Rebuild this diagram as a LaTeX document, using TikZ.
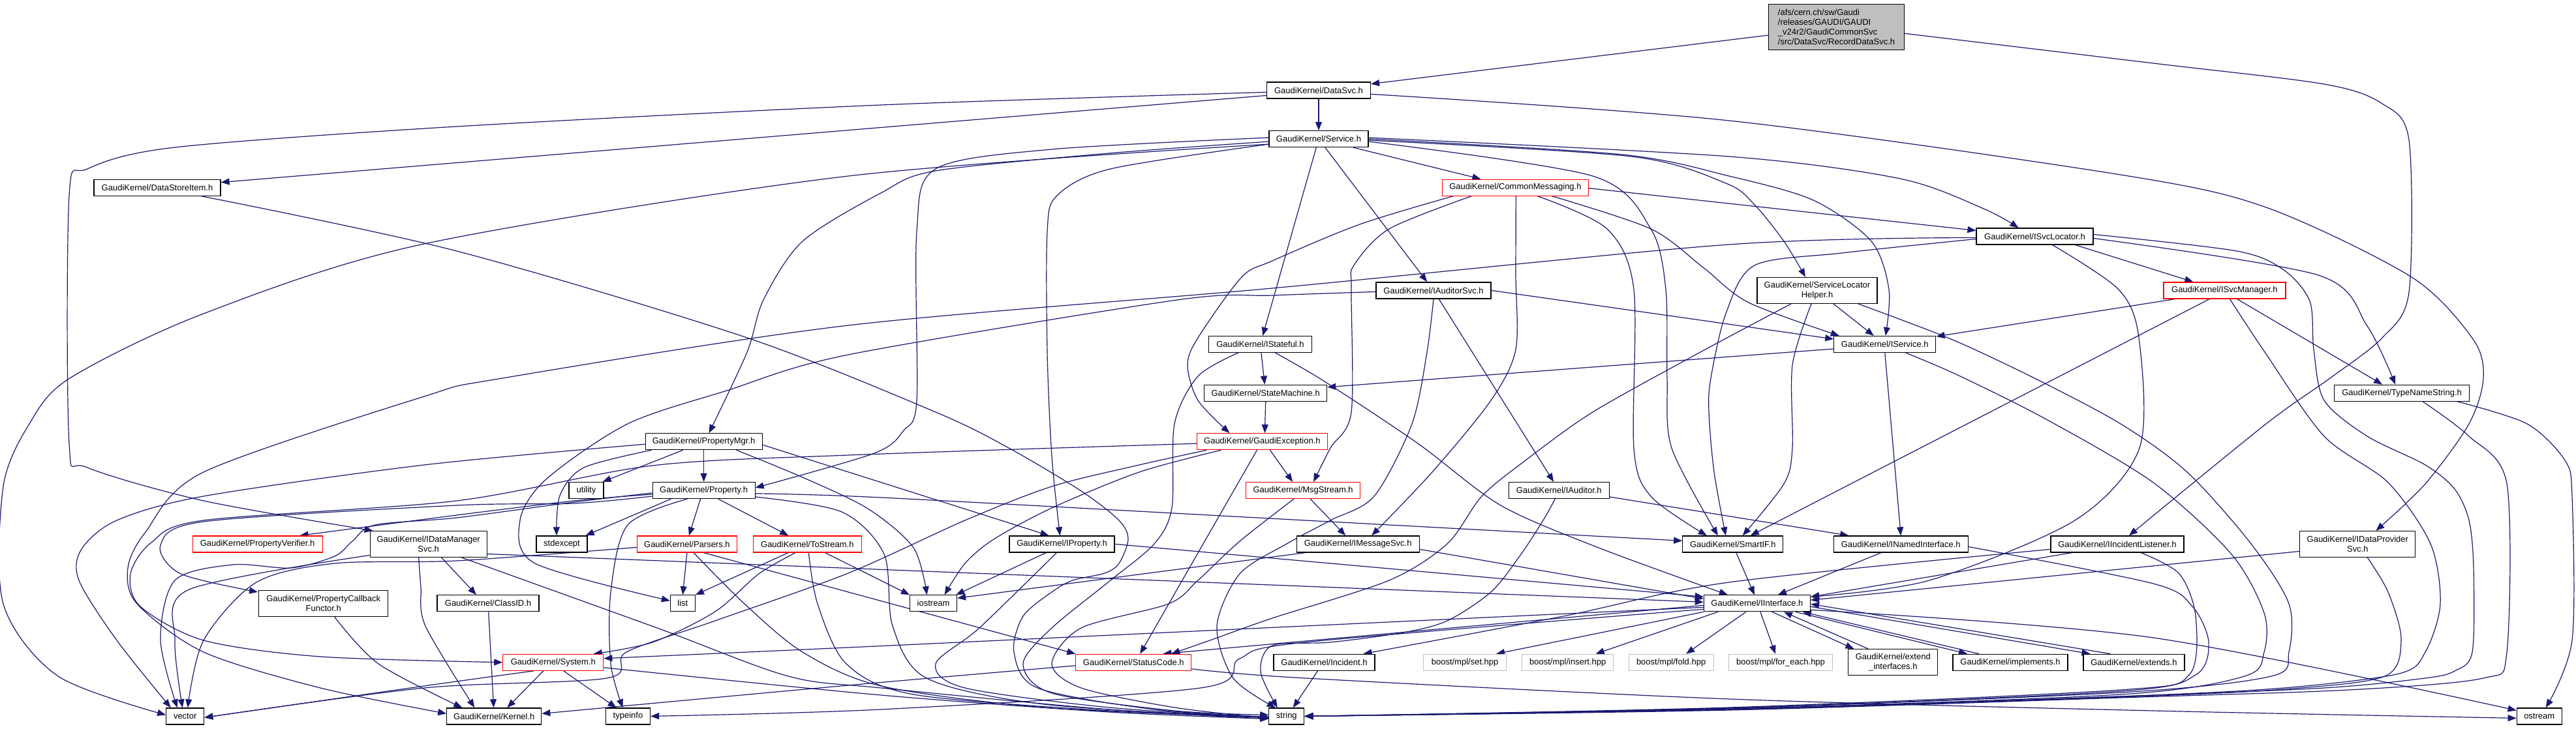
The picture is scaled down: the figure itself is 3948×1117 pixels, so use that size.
\documentclass[tikz,border=0pt]{standalone}
\usepackage{fontspec}
\setmainfont{Liberation Sans}
\usetikzlibrary{arrows.meta}
\definecolor{edgec}{HTML}{191970}
\definecolor{grayb}{HTML}{BFBFBF}
\pgfdeclarelayer{bg}
\pgfsetlayers{bg,main}
\begin{document}
\begin{tikzpicture}[x=1pt,y=-1pt,
  nd/.style={draw=black, line width=1.2pt, fill=white, inner sep=0pt, minimum height=25pt, align=center, font=\fontsize{13}{15}\selectfont},
  rnd/.style={nd, draw=red},
  bnd/.style={nd, draw=grayb},
  ed/.style={draw=edgec, line width=1.2pt, -{Triangle[length=13pt,width=10pt]}},
  sm/.style={smooth, tension=0.5}
]
\useasboundingbox (0,0) rectangle (3948,1117);
% nodes
\node[nd, fill=grayb, minimum width=207.6pt, minimum height=70pt, align=left] (root) at (2814.5,41.3) {/afs/cern.ch/sw/Gaudi\\/releases/GAUDI/GAUDI\\\_v24r2/GaudiCommonSvc\\/src/DataSvc/RecordDataSvc.h};
\node[nd, minimum width=159pt] (datasvc) at (2021,138.4) {GaudiKernel/DataSvc.h};
\node[nd, minimum width=152pt] (service) at (2021,213.1) {GaudiKernel/Service.h};
\node[nd, minimum width=194pt] (dsi) at (241,287.6) {GaudiKernel/DataStoreItem.h};
\node[rnd, minimum width=224pt] (cm) at (2322.4,287.6) {GaudiKernel/CommonMessaging.h};
\node[nd, minimum width=179pt] (isl) at (3118.5,362.5) {GaudiKernel/ISvcLocator.h};
\node[nd, minimum width=176pt] (ias) at (2197,445.4) {GaudiKernel/IAuditorSvc.h};
\node[nd, minimum width=184pt, minimum height=40pt] (slh) at (2785,445.4) {GaudiKernel/ServiceLocator\\Helper.h};
\node[rnd, minimum width=187pt] (ism) at (3409.4,445.4) {GaudiKernel/ISvcManager.h};
\node[nd, minimum width=158pt] (ist) at (1931.5,528) {GaudiKernel/IStateful.h};
\node[nd, minimum width=156pt] (isrv) at (2888.8,528) {GaudiKernel/IService.h};
\node[nd, minimum width=188pt] (smach) at (1939.7,602.7) {GaudiKernel/StateMachine.h};
\node[nd, minimum width=207pt] (tns) at (3681.1,602.7) {GaudiKernel/TypeNameString.h};
\node[rnd, minimum width=200pt] (gex) at (1934.4,677.2) {GaudiKernel/GaudiException.h};
\node[nd, minimum width=179pt] (pmgr) at (1078.6,677.2) {GaudiKernel/PropertyMgr.h};
\node[nd, minimum width=53pt] (util) at (898.5,752) {utility};
\node[nd, minimum width=157pt] (prop) at (1078.6,752) {GaudiKernel/Property.h};
\node[rnd, minimum width=175pt] (msg) at (1997.1,752) {GaudiKernel/MsgStream.h};
\node[nd, minimum width=154pt] (iaud) at (2389.3,752) {GaudiKernel/IAuditor.h};
\node[rnd, minimum width=199pt] (pver) at (394.6,834.4) {GaudiKernel/PropertyVerifier.h};
\node[nd, minimum width=179pt, minimum height=40pt] (idm) at (656.7,834.5) {GaudiKernel/IDataManager\\Svc.h};
\node[nd, minimum width=78pt] (stdx) at (861,834.4) {stdexcept};
\node[rnd, minimum width=153pt] (pars) at (1052.9,834.4) {GaudiKernel/Parsers.h};
\node[rnd, minimum width=166pt] (tostr) at (1237.3,834.4) {GaudiKernel/ToStream.h};
\node[nd, minimum width=161pt] (iprop) at (1627.5,834.4) {GaudiKernel/IProperty.h};
\node[nd, minimum width=188pt] (imsg) at (2081.2,834.4) {GaudiKernel/IMessageSvc.h};
\node[nd, minimum width=154pt] (smart) at (2655.8,834.4) {GaudiKernel/SmartIF.h};
\node[nd, minimum width=206pt] (inamed) at (2913.2,834.4) {GaudiKernel/INamedInterface.h};
\node[nd, minimum width=204pt] (iil) at (3245,834.4) {GaudiKernel/IIncidentListener.h};
\node[nd, minimum width=177pt, minimum height=40pt] (idp) at (3613.3,834.5) {GaudiKernel/IDataProvider\\Svc.h};
\node[nd, minimum width=198pt, minimum height=40pt] (pcf) at (495.7,925.5) {GaudiKernel/PropertyCallback\\Functor.h};
\node[nd, minimum width=156pt] (clid) at (748,925.3) {GaudiKernel/ClassID.h};
\node[nd, minimum width=38pt] (list) at (1046.4,925.3) {list};
\node[nd, minimum width=72pt] (iostr) at (1430.6,925.3) {iostream};
\node[nd, minimum width=163pt] (iintf) at (2692.9,925.3) {GaudiKernel/IInterface.h};
\node[rnd, minimum width=154pt] (sys) at (847.8,1015.8) {GaudiKernel/System.h};
\node[rnd, minimum width=177pt] (stc) at (1737.3,1015.8) {GaudiKernel/StatusCode.h};
\node[nd, minimum width=155pt] (inc) at (2029.5,1015.8) {GaudiKernel/Incident.h};
\node[bnd, minimum width=127pt] (bset) at (2245.1,1015.8) {boost/mpl/set.hpp};
\node[bnd, minimum width=140pt] (bins) at (2402.7,1015.8) {boost/mpl/insert.hpp};
\node[bnd, minimum width=130pt] (bfold) at (2561.1,1015.8) {boost/mpl/fold.hpp};
\node[bnd, minimum width=159pt] (bfe) at (2729,1015.8) {boost/mpl/for\_each.hpp};
\node[nd, minimum width=137pt, minimum height=40pt] (extif) at (2901.3,1015.7) {GaudiKernel/extend\\\_interfaces.h};
\node[nd, minimum width=176pt] (impl) at (3081,1015.8) {GaudiKernel/implements.h};
\node[nd, minimum width=155pt] (exts) at (3270.4,1015.8) {GaudiKernel/extends.h};
\node[nd, minimum width=58pt] (vec) at (283.7,1098.4) {vector};
\node[nd, minimum width=145pt] (kern) at (757.3,1098.4) {GaudiKernel/Kernel.h};
\node[nd, minimum width=68pt] (tinfo) at (962.5,1098.4) {typeinfo};
\node[nd, minimum width=54pt] (str) at (1971.8,1098.4) {string};
\node[nd, minimum width=69pt] (ostr) at (3891.7,1098.4) {ostream};

\begin{pgfonlayer}{bg}
\fill[white] (0,0) rectangle (3948,1117);
% root
\draw[ed] (root) -- (datasvc);
\draw[ed] plot[sm] coordinates {([yshift=-10pt]root.east) (3300,97) (3562,129) (3651,159) (3692,215) (3692,448) (3651,518) (3571,580) (3473,650) ([xshift=18pt]iil.north)};
% DataSvc
\draw[ed] (datasvc) -- (service);
\draw[ed] ([yshift=-8pt]datasvc.west) -- (dsi);
\draw[ed] plot[sm] coordinates {([yshift=-3pt]datasvc.west) (1350,161) (700,194) (268,226) (134,259) (106,300) (106,680) (134,717) (312,768) ([xshift=5pt]idm.north west)};
\draw[ed] plot[sm] coordinates {([yshift=-6pt]datasvc.east) (2650,185) (3250,268) (3473,318) (3696,425) (3790,520) (3806,580) (3784,650) (3717,742) ([xshift=28pt]idp.north)};
% Service
\draw[ed] (service) -- (cm);
\draw[ed] (service) -- (ias);
\draw[ed] (service) -- (ist);
\draw[ed] plot[sm] coordinates {([yshift=-4pt]service.west) (1700,235) (1434,262) (1350,296) (1230,370) (1170,460) (1145,540) ([xshift=8pt]pmgr.north)};
\draw[ed] plot[sm] coordinates {([yshift=-8pt]service.west) (1702,259) (1620,300) (1605,355) (1605,540) (1612,700) ([xshift=-3pt]iprop.north)};
\draw[ed] plot[sm] coordinates {([yshift=2pt]service.west) (1612,229) (1434,259) (1405,355) (1405,614) (1385,660) (1340,695) ([yshift=4pt]prop.east)};
\draw[ed] plot[sm] coordinates {([yshift=-8pt]service.west) (1300,270) (650,374) (312,481) (107,580) (45,650) (5,746) (5,926) (89,1037) ([yshift=2pt]vec.west)};
\draw[ed] plot[sm] coordinates {([yshift=2pt]service.east) (2650,240) (2912,274) (3040,320) ([xshift=-25pt]isl.north)};
\draw[ed] plot[sm] coordinates {(service.east) (2486,237) (2650,270) (2779,307) (2868,370) (2895,444) ([xshift=1pt]isrv.north)};
\draw[ed] plot[sm] coordinates {([yshift=-2pt]service.east) (2500,240) (2645,281) (2689,314) (2734,370) ([xshift=-18pt]slh.north)};
\draw[ed] plot[sm] coordinates {([yshift=-4pt]service.east) (2441,270) (2530,351) (2553,444) (2555,580) (2562,687) ([xshift=-23pt]smart.north)};
% DataStoreItem
\draw[ed] plot[sm] coordinates {([xshift=67pt]dsi.south) (700,385) (1145,518) (1434,632) (1546,687) (1657,753) (1715,798) (1729,827) (1715,864) (1693,879) (1644,890) (1612,908) (1568,945) (1554,1000) (1590,1055) (1769,1088) ([yshift=-1pt]str.west)};
% CommonMessaging
\draw[ed] plot[sm] coordinates {([xshift=-95pt]cm.south) (2084,344) (1950,400) (1903,425) (1836,518) (1820,560) (1836,614) ([xshift=-50pt]gex.north)};
\draw[ed] plot[sm] coordinates {([xshift=-67pt]cm.south) (2129,351) (2075,407) (2071,444) (2071,632) (2039,687) ([xshift=16pt]msg.north)};
\draw[ed] plot[sm] coordinates {([xshift=1pt]cm.south) (2323,420) (2323,536) (2285,614) (2195,724) ([xshift=21pt]imsg.north)};
\draw[ed] plot[sm] coordinates {([xshift=34pt]cm.south) (2463,351) (2504,444) (2504,687) (2530,761) ([xshift=-40pt]smart.north)};
\draw[ed] plot[sm] coordinates {([xshift=56pt]cm.south) (2530,351) (2610,410) (2680,464) ([xshift=-70pt]isrv.north)};
\draw[ed] ([yshift=-1pt]cm.east) -- ([yshift=9pt]isl.west);
% ISvcLocator
\draw[ed] plot[sm] coordinates {([yshift=-2pt]isl.west) (2650,375) (1950,442) (1300,499) (770,580) (650,608) (312,724) (223,816) (196,871) (210,926) (312,1000) (491,1055) ([yshift=4pt]kern.west)};
\draw[ed] plot[sm] coordinates {([yshift=-4pt]isl.west) (2823,388) (2689,407) (2645,481) (2622,580) (2619,632) (2627,724) ([xshift=-11pt]smart.north)};
\draw[ed] plot[sm] coordinates {([xshift=27pt]isl.south) (3247,444) (3278,518) (3279,687) (3180,798) (2957,890) ([yshift=-3pt]iintf.north east)};
\draw[ed] ([xshift=62pt]isl.south) -- ([xshift=-48pt]ism.north);
\draw[ed] plot[sm] coordinates {([yshift=3pt]isl.east) (3428,385) (3500,414) (3540,462) (3546,536) (3562,614) (3628,669) (3717,713) (3762,750) (3784,798) (3791,871) (3789,1000) (3762,1029) (3717,1040) (3562,1055) (3250,1068) (2650,1088) (str.east)};
\draw[ed] plot[sm] coordinates {([yshift=-3pt]isl.east) (3553,422) (3628,500) ([xshift=-10pt]tns.north)};
% IAuditorSvc
\draw[ed] (ias.east) -- ([yshift=8pt]isrv.west);
\draw[ed] (ias) -- (iaud);
\draw[ed] plot[sm] coordinates {(ias.south) (2187,540) (2164,650) (2106,761) (2039,798) (1972,834) (1900,880) (1865,960) (1890,1040) ([xshift=-17pt]str.north)};
\draw[ed] plot[sm] coordinates {([yshift=-2pt]ias.west) (1950,453) (1804,460) (1300,544) (1114,599) (962,650) (837,735) (797,798) (820,864) ([yshift=4pt]list.west)};
% ServiceLocatorHelper
\draw[ed] ([xshift=25pt]slh.south) -- ([xshift=-17pt]isrv.north);
\draw[ed] plot[sm] coordinates {([xshift=-9pt]slh.south) (2747,560) (2747,687) (2734,742) ([xshift=15pt]smart.north)};
\draw[ed] plot[sm] coordinates {([xshift=-40pt]slh.south) (2606,540) (2441,632) (2338,706) (2271,761) (2218,834) (2129,890) (1950,948) (1860,980) ([xshift=58pt]stc.north)};
\draw[ed] plot[sm] coordinates {([xshift=63pt]slh.south) (2990,520) (3118,580) (3250,650) (3352,724) (3450,834) (3508,926) (3508,1000) (3481,1037) (3250,1062) (2650,1086) (str.east)};
% ISvcManager
\draw[ed] ([xshift=-75pt]ism.south) -- ([yshift=12pt]isrv.east);
\draw[ed] ([xshift=-23pt]ism.south) -- ([xshift=27pt]smart.north);
\draw[ed] plot[sm] coordinates {([xshift=8pt]ism.south) (3471,540) (3562,669) (3660,740) (3725,834) (3740,926) (3717,1000) (3677,1033) (3500,1055) (3250,1068) (2650,1088) (str.east)};
\draw[ed] ([xshift=19pt]ism.south) -- ([xshift=-30pt]tns.north);
% IStateful
\draw[ed] (ist) -- (smach);
\draw[ed] plot[sm] coordinates {([xshift=23pt]ist.south) (2030,585) (2173,680) (2300,775) (2450,840) ([xshift=-45pt]iintf.north)};
\draw[ed] plot[sm] coordinates {([xshift=-34pt]ist.south) (1836,577) (1800,650) (1796,779) (1769,834) (1702,890) (1612,963) (1568,1018) (1612,1063) (1800,1090) ([yshift=2pt]str.west)};
% IService
\draw[ed] ([yshift=-7pt]isrv.west) -- ([yshift=9pt]smach.east);
\draw[ed] (isrv.south) -- (inamed.north);
\draw[ed] plot[sm] coordinates {([xshift=32pt]isrv.south) (3000,575) (3136,643) (3300,740) (3420,850) (3470,940) (3470,1000) (3440,1037) (3250,1065) (2650,1087) (str.east)};
% StateMachine, TypeNameString
\draw[ed] (smach.south) -- ([xshift=4pt]gex.north);
\draw[ed] plot[sm] coordinates {([xshift=32pt]tns.south) (3784,669) (3842,742) (3842,1000) (3806,1040) (3600,1058) (3250,1070) (2650,1089) (str.east)};
\draw[ed] plot[sm] coordinates {([xshift=85pt]tns.south) (3873,650) (3931,706) (3942,761) (3942,982) ([xshift=10pt]ostr.north)};
% GaudiException
\draw[ed] ([xshift=12pt]gex.south) -- ([xshift=-16pt]msg.north);
\draw[ed] plot[sm] coordinates {([xshift=-63pt]gex.south) (1746,724) (1612,779) (1523,827) (1479,864) ([xshift=17pt]iostr.north)};
\draw[ed] ([xshift=-8pt]gex.south) -- ([xshift=10pt]stc.north);
\draw[ed] plot[sm] coordinates {([xshift=-85pt]gex.south) (1746,713) (1612,746) (1479,798) (1300,879) (1096,952) (960,1000) (930,1040) (650,1055) ([yshift=-2pt]vec.east)};
\draw[ed] plot[sm] coordinates {([yshift=-3pt]gex.west) (1300,698) (1000,714) (700,768) (312,798) (232,832) (200,880) (215,930) (312,982) (491,1007) (sys.west)};
% PropertyMgr
\draw[ed] ([xshift=-32pt]pmgr.south) -- ([xshift=-2pt]util.north east);
\draw[ed] (pmgr) -- (prop);
\draw[ed] plot[sm] coordinates {([xshift=-80pt]pmgr.south) (895,717) (858,760) ([xshift=-8pt]stdx.north)};
\draw[ed] ([yshift=-5pt]pmgr.east) -- ([xshift=-20pt]iprop.north);
\draw[ed] plot[sm] coordinates {([yshift=-4pt]pmgr.west) (650,713) (312,761) (179,798) (125,842) (121,890) (179,982) ([xshift=-22pt]vec.north)};
\draw[ed] plot[sm] coordinates {([xshift=50pt]pmgr.south) (1230,732) (1330,780) (1400,840) ([xshift=-10pt]iostr.north)};
% Property
\draw[ed] plot[sm] coordinates {([yshift=-6pt]prop.west) (880,768) (700,790) ([xshift=65pt]pver.north)};
\draw[ed] ([xshift=-50pt]prop.south) -- ([xshift=-3pt]stdx.north east);
\draw[ed] ([xshift=-5pt]prop.south) -- ([xshift=3pt]pars.north);
\draw[ed] ([xshift=22pt]prop.south) -- ([xshift=-29pt]tostr.north);
\draw[ed] plot[sm] coordinates {([yshift=-9pt]prop.west) (880,772) (700,775) (312,800) (246,836) (277,880) ([xshift=-1pt,yshift=-3pt]pcf.north west)};
\draw[ed] plot[sm] coordinates {([xshift=-25pt]prop.south) (962,805) (936,908) (936,1018) ([xshift=-8pt]tinfo.north)};
\draw[ed] plot[sm] coordinates {([yshift=-5pt]prop.east) (1350,763) (2000,798) ([yshift=5pt]smart.west)};
\draw[ed] plot[sm] coordinates {([yshift=-10pt]prop.east) (1290,785) (1355,850) (1368,960) (1420,1040) (1600,1080) ([yshift=-4pt]str.west)};
\draw[ed] plot[sm] coordinates {([yshift=-4pt]prop.west) (880,770) (700,794) (575,805) (540,830) (513,853) (446,871) (357,866) (268,890) (246,982) ([xshift=-12pt]vec.north)};
% MsgStream
\draw[ed] ([xshift=11pt]msg.south) -- ([xshift=-19pt]imsg.north);
\draw[ed] plot[sm] coordinates {([xshift=-14pt]msg.south) (1900,830) (1836,890) (1791,926) (1657,963) (1612,1018) (1657,1055) (1800,1085) ([yshift=-3pt]str.west)};
% IAuditor
\draw[ed] ([yshift=-10pt]iaud.east) -- ([xshift=-80pt]inamed.north);
\draw[ed] plot[sm] coordinates {([xshift=-6pt]iaud.south) (2365,798) (2329,853) (2285,908) (2218,952) (2151,970) (2039,985) (1950,990) (1932,1030) ([xshift=-14pt]str.north)};
% IDataManagerSvc
\draw[ed] ([xshift=20pt]idm.south) -- ([xshift=-18pt]clid.north);
\draw[ed] plot[sm] coordinates {([yshift=-17pt]idm.west) (290,904) (268,982) ([xshift=-4pt]vec.north)};
\draw[ed] plot[sm] coordinates {([xshift=-15pt]idm.south) (645,900) (652,960) ([xshift=-30pt]kern.north)};
\draw[ed] ([yshift=-15pt]idm.east) -- ([yshift=2pt]iintf.west);
\draw[ed] plot[sm] coordinates {([xshift=51pt]idm.south) (1007,963) (1208,1037) (1350,1055) (1700,1088) ([yshift=-1pt]str.west)};
% PropertyCallbackFunctor, ClassID
\draw[ed] plot[sm] coordinates {([xshift=17pt]pcf.south) (580,1018) ([xshift=-49pt]kern.north)};
\draw[ed] (clid) -- (kern);
% Parsers
\draw[ed] (pars.south) -- (list.north);
\draw[ed] plot[sm] coordinates {([yshift=-5pt]pars.west) (700,860) (513,864) (393,893) (312,982) ([xshift=4pt]vec.north)};
\draw[ed] ([xshift=25pt]pars.south) -- (stc.north west);
\draw[ed] plot[sm] coordinates {([xshift=10pt]pars.south) (1141,926) (1230,1000) (1350,1052) (1600,1085) ([yshift=-2pt]str.west)};
% ToStream
\draw[ed] ([xshift=-29pt]tostr.south) -- (list.north east);
\draw[ed] plot[sm] coordinates {([xshift=-18pt]tostr.south) (1163,880) (1096,938) (1000,985) ([xshift=62pt]sys.north)};
\draw[ed] plot[sm] coordinates {([xshift=2pt]tostr.south) (1253,926) (1297,1018) (1400,1065) (1700,1090) ([yshift=-1pt]str.west)};
\draw[ed] ([xshift=27pt]tostr.south) -- (iostr.north west);
% IProperty
\draw[ed] ([xshift=-24pt]iprop.south) -- ([xshift=-2pt]iostr.north east);
\draw[ed] plot[sm] coordinates {([xshift=-8pt]iprop.south) (1501,963) (1434,1018) (1479,1055) (1700,1085) ([yshift=-2pt]str.west)};
\draw[ed] (iprop.east) -- ([yshift=-3pt]iintf.north west);
% IMessageSvc
\draw[ed] ([xshift=-80pt]imsg.south) -- ([yshift=8pt]iostr.east);
\draw[ed] ([yshift=-8pt]imsg.east) -- ([yshift=7pt]iintf.west);
% SmartIF, INamedInterface, IIncidentListener, IDataProviderSvc
\draw[ed] ([xshift=5pt]smart.south) -- ([xshift=-4pt]iintf.north);
\draw[ed] ([xshift=-30pt]inamed.south) -- ([xshift=32pt]iintf.north);
\draw[ed] plot[sm] coordinates {([yshift=-4pt]inamed.east) (3300,895) (3360,930) (3385,985) (3365,1035) (3250,1060) (2650,1086) (str.east)};
\draw[ed] ([xshift=-69pt]iil.south) -- ([yshift=10pt]iintf.east);
\draw[ed] plot[sm] coordinates {([yshift=-8pt]iil.west) (2650,893) (2396,945) ([xshift=60pt]inc.north)};
\draw[ed] plot[sm] coordinates {([xshift=36pt]iil.south) (3340,880) (3365,945) (3355,1035) (3250,1058) (2650,1085) (str.east)};
\draw[ed] ([yshift=-11pt]idp.west) -- ([yshift=5pt]iintf.east);
\draw[ed] plot[sm] coordinates {([xshift=15pt]idp.south) (3660,908) (3680,981) (3655,1037) (3500,1057) (3250,1069) (2650,1088) (str.east)};
% IInterface
\draw[ed] (iintf.south west) -- ([xshift=48pt]bset.north);
\draw[ed] ([xshift=-60pt]iintf.south) -- ([xshift=43pt]bins.north);
\draw[ed] ([xshift=-17pt]iintf.south) -- ([xshift=23pt]bfold.north);
\draw[ed] ([xshift=5pt]iintf.south) -- ([xshift=-8pt]bfe.north);
\draw[ed] ([xshift=23pt]iintf.south) -- ([xshift=-60pt]extif.north);
\draw[ed] ([xshift=-38pt]extif.north) -- ([xshift=41pt]iintf.south);
\draw[ed] ([xshift=59pt]iintf.south) -- ([xshift=-66pt]impl.north);
\draw[ed] ([xshift=-48pt]impl.north) -- ([xshift=70pt]iintf.south);
\draw[ed] ([yshift=-5pt]iintf.east) -- ([xshift=-67pt]exts.north);
\draw[ed] ([xshift=-36pt]exts.north) -- ([yshift=-1pt]iintf.east);
\draw[ed] plot[sm] coordinates {([yshift=-6pt]iintf.west) (2000,960) (1300,993) ([yshift=6pt]sys.east)};
\draw[ed] ([yshift=-3pt]iintf.west) -- ([xshift=45pt]stc.north);
\draw[ed] plot[sm] coordinates {([yshift=-9pt]iintf.west) (2000,985) (1900,1010) (1840,1055) (1350,1088) (tinfo.east)};
\draw[ed] plot[sm] coordinates {([yshift=-10pt]iintf.east) (3300,978) ([yshift=9pt]ostr.west)};
% System
\draw[ed] ([xshift=-15pt]sys.south) -- ([xshift=20pt]kern.north);
\draw[ed] ([xshift=16pt]sys.south) -- ([xshift=-18pt]tinfo.north);
\draw[ed] plot[sm] coordinates {([yshift=-8pt]sys.east) (1350,1066) (1700,1092) ([yshift=-4pt]str.west)};
\draw[ed] plot[sm] coordinates {([xshift=-30pt]sys.south) (650,1052) ([yshift=-2pt]vec.east)};
% StatusCode
\draw[ed] plot[sm] coordinates {([yshift=-5pt]stc.west) (1300,1051) ([yshift=4pt]kern.east)};
\draw[ed] plot[sm] coordinates {([yshift=-10pt]stc.east) (2000,1040) (2650,1072) (3300,1090) ([yshift=-3pt]ostr.west)};
% Incident
\draw[ed] ([xshift=-10pt]inc.south) -- ([xshift=10pt]str.north);
\end{pgfonlayer}
\end{tikzpicture}
\end{document}
